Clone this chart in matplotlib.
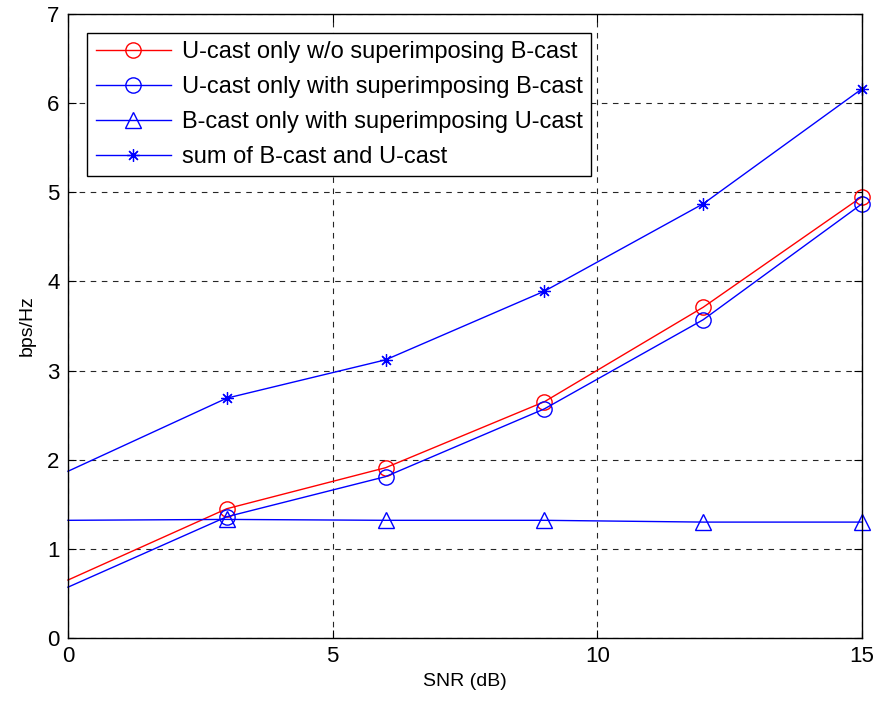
import matplotlib
matplotlib.use("Agg")
import matplotlib.pyplot as plt

plt.rcParams['font.family'] = ['Liberation Sans', 'DejaVu Sans']

snr = [0, 3, 6, 9, 12, 15]
ucast_wo = [0.65, 1.45, 1.91, 2.65, 3.71, 4.95]
ucast_with = [0.57, 1.36, 1.81, 2.57, 3.57, 4.87]
bcast_with = [1.32, 1.33, 1.32, 1.32, 1.30, 1.30]
sum_bu = [1.87, 2.69, 3.12, 3.89, 4.87, 6.16]

labels = ["U-cast only w/o superimposing B-cast",
          "U-cast only with superimposing B-cast",
          "B-cast only with superimposing U-cast",
          "sum of B-cast and U-cast"]

fig = plt.figure(figsize=(8.78, 7.04), dpi=100)
ax = fig.add_axes([0.0774, 0.09375, 0.9044, 0.8865])

me = slice(1, None)
ax.plot(snr, ucast_wo, color='red', lw=1, marker='o', ms=11, mfc='none', mew=1,
        markevery=me, label=labels[0])
ax.plot(snr, ucast_with, color='blue', lw=1, marker='o', ms=11, mfc='none', mew=1,
        markevery=me, label=labels[1])
ax.plot(snr, bcast_with, color='blue', lw=1, marker='^', ms=12, mfc='none', mew=1,
        markevery=me, label=labels[2])
ax.plot(snr, sum_bu, color='blue', lw=1, marker=(8, 2, 0), ms=9, mew=0.9,
        markevery=me, label=labels[3])

for l in ax.lines:
    l.set_clip_on(False)

ax.set_xlim(0, 15)
ax.set_ylim(0, 7)
ax.set_xticks([0, 5, 10, 15])
ax.set_yticks(range(0, 8))
ax.grid(True, color='black', linestyle=(0, (5, 5)), linewidth=0.8, alpha=0.85)
ax.tick_params(direction='in', length=6, labelsize=16, top=True, right=True, pad=6)
for s in ax.spines.values():
    s.set_linewidth(1)
ax.set_xlabel("SNR (dB)", fontsize=14, labelpad=4)
ax.set_ylabel("bps/Hz", fontsize=14, labelpad=8)

leg = ax.legend(loc='upper left', bbox_to_anchor=(0.0243, 0.97), fontsize=17,
                fancybox=False, framealpha=1, edgecolor='black',
                handlelength=3.2, handletextpad=0.45, borderpad=0.35,
                labelspacing=0.55, borderaxespad=0)
leg.get_frame().set_linewidth(1)
leg._legend_box.align = "left"

fig.savefig("out.png", dpi=100)
